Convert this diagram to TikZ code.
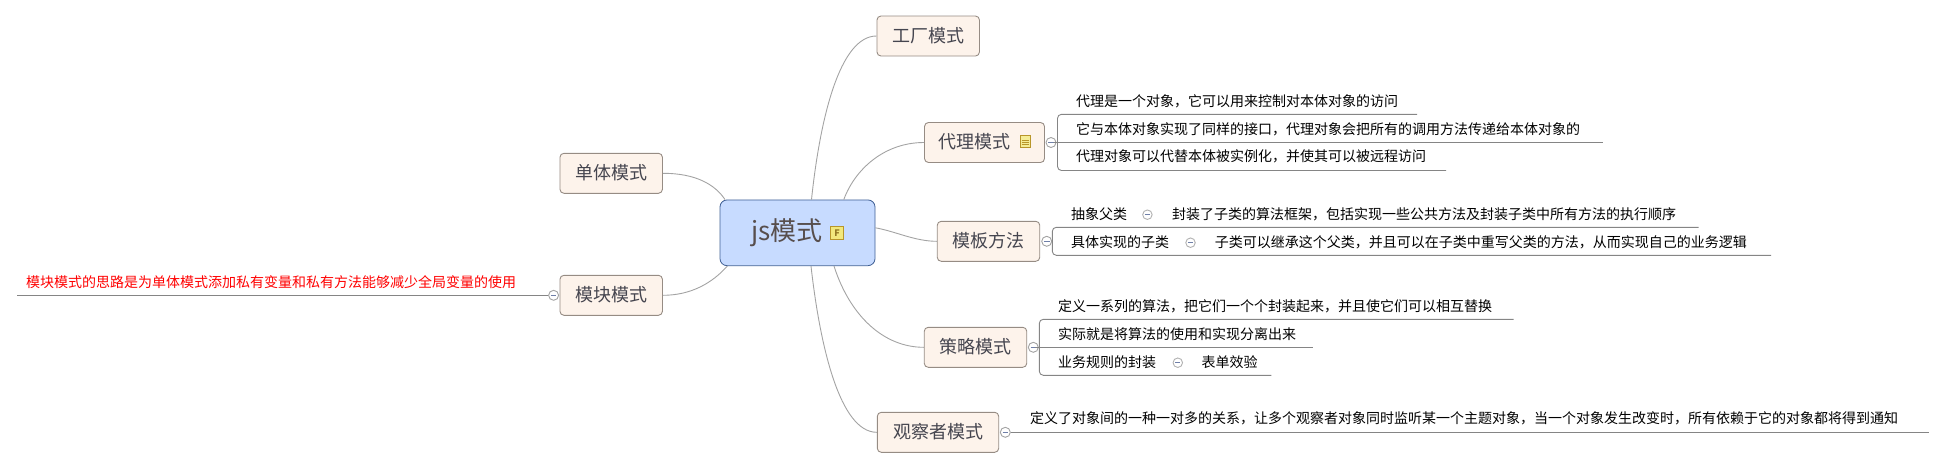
\documentclass[tikz,border=0pt]{standalone}
\usepackage{fontspec}
\setmainfont{Noto Sans CJK SC}
\usetikzlibrary{positioning, calc}
\definecolor{rootfill}{HTML}{C7DBFF}
\definecolor{rootline}{HTML}{3F5F94}
\definecolor{topicfill}{HTML}{FDF3EB}
\definecolor{topicline}{HTML}{968C84}
\definecolor{topictext}{HTML}{45454F}
\definecolor{wire}{HTML}{A3A3A3}
\definecolor{leafline}{HTML}{858585}
\definecolor{minusc}{HTML}{6F7FA8}
\definecolor{iconfill}{HTML}{F2E87C}
\definecolor{iconline}{HTML}{B8962A}
\tikzset{
  root/.style={draw=rootline, thick, fill=rootfill, rounded corners=7pt, minimum width=155pt,
               minimum height=65.7pt, inner sep=0pt},
  topic/.style={draw=topicline, line width=0.9pt, fill=topicfill, rounded corners=4pt,
                minimum height=40pt, inner sep=0pt, text height=15.5pt, text depth=3.5pt,
                font=\fontsize{18}{18}\selectfont, text=topictext},
  branch/.style={draw=wire, line width=0.9pt},
  leafwire/.style={draw=leafline, line width=0.9pt, rounded corners=4pt},
  leaf/.style={anchor=west, inner sep=0pt, yshift=0.8pt, font=\fontsize{14}{14}\selectfont, text=black},
  collapse/.style={circle, draw=wire, line width=0.9pt, fill=white, minimum size=10pt, inner sep=0pt,
                   path picture={\draw[minusc, line width=0.9pt]
                     ([xshift=2.2pt]path picture bounding box.west) --
                     ([xshift=-2.2pt]path picture bounding box.east);}},
  fold/.style={collapse, draw=wire!85, minimum size=9.5pt},
}
\begin{document}
\begin{tikzpicture}[x=1pt, y=-1pt]
  \useasboundingbox (0,0) rectangle (1945,469);
  % central topic
  \node[root] (js) at (797.5,232.8) {};
  \node[anchor=west, inner sep=0pt, text=topictext!85!brown, font=\fontsize{26}{26}\selectfont] (jstxt) at (751,233) {js模式};
  \node[draw=iconline, fill=iconfill, minimum size=13pt, inner sep=0pt, text=iconline!80!black,
        font=\fontsize{9}{9}\selectfont\bfseries] (jsicon) at (837,233) {F};

  % main topics
  \node[topic, minimum width=102.5pt] (gongchang) at (928.2,36) {工厂模式};
  \node[topic, minimum width=120pt, text width=93pt] (daili) at (984.5,142.5) {代理模式};
  \node[topic, minimum width=102.5pt] (danti) at (611.2,173.3) {单体模式};
  \node[topic, minimum width=102.5pt] (mokuai) at (611.2,295.3) {模块模式};
  \node[topic, minimum width=102.5pt] (muban) at (988.5,241.3) {模板方法};
  \node[topic, minimum width=102.5pt] (celue) at (975.5,347.3) {策略模式};
  \node[topic, minimum width=121.4pt] (guancha) at (938,432.3) {观察者模式};

  % note icon on daili
  \node[draw=iconline, fill=iconfill!80, line width=1.1pt, minimum width=10pt, minimum height=12.5pt, inner sep=0pt,
        path picture={\foreach \k in {-3,-0.8,1.4}
          \draw[iconline, line width=0.8pt] ([xshift=1.5pt,yshift=\k pt]path picture bounding box.west) --
            ([xshift=-1.5pt,yshift=\k pt]path picture bounding box.east);}] (note) at (1025.4,141.4) {};

  % branches from the root
  \draw[branch] ([xshift=14pt]js.north) .. controls +(8.4,-80) and +(-37,0) .. (gongchang.west);
  \draw[branch] ([xshift=46.3pt]js.north) .. controls +(11,-30) and +(-40,0) .. (daili.west);
  \draw[branch] ([xshift=-72.5pt]js.north) .. controls +(-10,-15) and +(33,0) .. (danti.east);
  \draw[branch] ([xshift=-70.2pt]js.south) .. controls +(-15,17) and +(28,0) .. (mokuai.east);
  \draw[branch] ([yshift=5pt]js.east) .. controls +(20,3.5) and +(-22,0) .. (muban.west);
  \draw[branch] ([xshift=36.5pt]js.south) .. controls +(16,50) and +(-40,0) .. (celue.west);
  \draw[branch] ([xshift=13.5pt]js.south) .. controls +(9,80) and +(-37,0) .. (guancha.west);

  % collapse marks
  \node[collapse] (dailic) at (1051,142.5) {};
  \node[collapse] (mokuaic) at (553.6,295.3) {};
  \node[collapse] (mubanc) at (1046.7,241.3) {};
  \node[collapse] (celuec) at (1033.3,347.3) {};
  \node[collapse] (guanchac) at (1005.3,432.3) {};

  % junctions and line ends
  \coordinate (dailij) at (1057.5,142.5);
  \coordinate (mubanj) at (1052.3,241.3);
  \coordinate (celuej) at (1039.3,347.3);
  \foreach \n/\x/\y in {d1/1417/114.3,d2/1603/142.5,d3/1446/170.5,
                        m1/1698.5/227.3,m2/1771/255.3,
                        c1/1513.7/319.3,c2/1313.3/347.3,c3/1271.4/375.3,
                        g1/1928.8/432.3,k1/16.5/295.3}
    \coordinate (\n) at (\x,\y);

  % leaf lines
  \draw[leafwire] (dailic) -- (dailij) -- (d2);
  \draw[leafwire] (dailij) |- (d1);
  \draw[leafwire] (dailij) |- (d3);
  \draw[leafwire] (mubanc) -- (mubanj);
  \draw[leafwire] (mubanj) |- (m1);
  \draw[leafwire] (mubanj) |- (m2);
  \draw[leafwire] (celuec) -- (celuej) -- (c2);
  \draw[leafwire] (celuej) |- (c1);
  \draw[leafwire] (celuej) |- (c3);
  \draw[leafwire] (guanchac) -- (g1);
  \draw[leafwire] (mokuaic) -- (k1);

  % leaf texts
  \node[leaf, text=red] (ktxt) at (26,282.7) {模块模式的思路是为单体模式添加私有变量和私有方法能够减少全局变量的使用};
  \node[leaf] (dtxt1) at (1076,102) {代理是一个对象，它可以用来控制对本体对象的访问};
  \node[leaf] (dtxt2) at (1076,130) {它与本体对象实现了同样的接口，代理对象会把所有的调用方法传递给本体对象的};
  \node[leaf] (dtxt3) at (1076,157) {代理对象可以代替本体被实例化，并使其可以被远程访问};
  \node[leaf] (mtxt1) at (1071,214.7) {抽象父类};
  \node[fold] (mf1) at (1147.4,214.7) {};
  \node[leaf] (mtxt1b) at (1172,214.7) {封装了子类的算法框架，包括实现一些公共方法及封装子类中所有方法的执行顺序};
  \node[leaf] (mtxt2) at (1071,242.7) {具体实现的子类};
  \node[fold] (mf2) at (1190.5,242.7) {};
  \node[leaf] (mtxt2b) at (1214.6,242.7) {子类可以继承这个父类，并且可以在子类中重写父类的方法，从而实现自己的业务逻辑};
  \node[leaf] (ctxt1) at (1058,306.7) {定义一系列的算法，把它们一个个封装起来，并且使它们可以相互替换};
  \node[leaf] (ctxt2) at (1058,335) {实际就是将算法的使用和实现分离出来};
  \node[leaf] (ctxt3) at (1058,362.7) {业务规则的封装};
  \node[fold] (cf3) at (1177.8,362.7) {};
  \node[leaf] (ctxt3b) at (1201.4,362.7) {表单效验};
  \node[leaf] (gtxt) at (1030,419.3) {定义了对象间的一种一对多的关系，让多个观察者对象同时监听某一个主题对象，当一个对象发生改变时，所有依赖于它的对象都将得到通知};
\end{tikzpicture}
\end{document}
